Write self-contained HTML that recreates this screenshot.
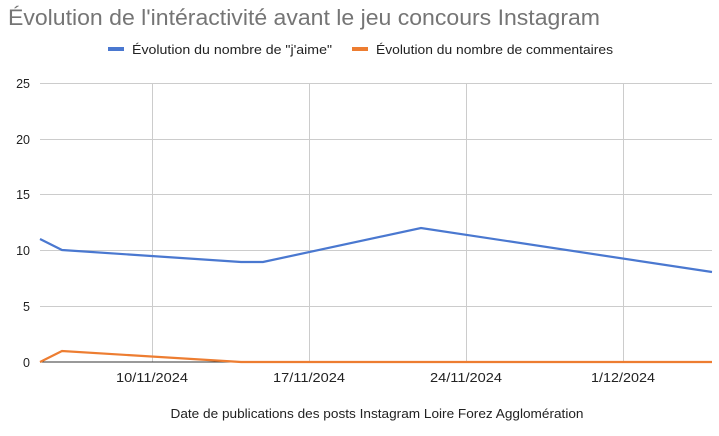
<!DOCTYPE html>
<html><head><meta charset="utf-8"><style>
body{margin:0;background:#fff;}
svg{display:block;font-family:"Liberation Sans",sans-serif;}
</style></head><body>
<svg width="719" height="436" xmlns="http://www.w3.org/2000/svg">
<rect width="719" height="436" fill="#fff"/>
<text x="8" y="25" font-size="22" fill="#757575" textLength="592" lengthAdjust="spacingAndGlyphs">Évolution de l'intéractivité avant le jeu concours Instagram</text>
<rect x="108" y="47" width="16" height="4" fill="#4a78d0"/>
<text x="132" y="54" font-size="12.5" fill="#222" textLength="200" lengthAdjust="spacingAndGlyphs">Évolution du nombre de "j'aime"</text>
<rect x="352" y="47" width="16" height="4" fill="#ed7d31"/>
<text x="376" y="54" font-size="12.5" fill="#222" textLength="237" lengthAdjust="spacingAndGlyphs">Évolution du nombre de commentaires</text>
<g stroke="#ccc" stroke-width="1">
<line x1="40" y1="83.5" x2="712" y2="83.5"/>
<line x1="40" y1="139.5" x2="712" y2="139.5"/>
<line x1="40" y1="194.5" x2="712" y2="194.5"/>
<line x1="40" y1="250.5" x2="712" y2="250.5"/>
<line x1="40" y1="306.5" x2="712" y2="306.5"/>
<line x1="152.5" y1="83" x2="152.5" y2="362"/>
<line x1="309.5" y1="83" x2="309.5" y2="362"/>
<line x1="466.5" y1="83" x2="466.5" y2="362"/>
<line x1="623.5" y1="83" x2="623.5" y2="362"/>
</g>
<line x1="40" y1="362" x2="712" y2="362" stroke="#333" stroke-width="1"/>
<g font-size="12.5" fill="#222" text-anchor="end">
<text x="30" y="88">25</text><text x="30" y="144">20</text><text x="30" y="199">15</text>
<text x="30" y="255">10</text><text x="30" y="311">5</text><text x="30" y="367">0</text>
</g>
<g font-size="12.5" fill="#222" text-anchor="middle">
<text x="152" y="382" textLength="72" lengthAdjust="spacingAndGlyphs">10/11/2024</text>
<text x="309" y="382" textLength="72" lengthAdjust="spacingAndGlyphs">17/11/2024</text>
<text x="466" y="382" textLength="72" lengthAdjust="spacingAndGlyphs">24/11/2024</text>
<text x="623" y="382" textLength="64" lengthAdjust="spacingAndGlyphs">1/12/2024</text>
<text x="377" y="418" textLength="413" lengthAdjust="spacingAndGlyphs">Date de publications des posts Instagram  Loire Forez Agglomération</text>
</g>
<polyline fill="none" stroke="#ed7d31" stroke-width="2.2" points="40,362 62,351 241,362 712,362"/>
<polyline fill="none" stroke="#4a78d0" stroke-width="2.2" points="40,239 62,250 241,262 263,262 421,228 712,272"/>
</svg>
</body></html>
